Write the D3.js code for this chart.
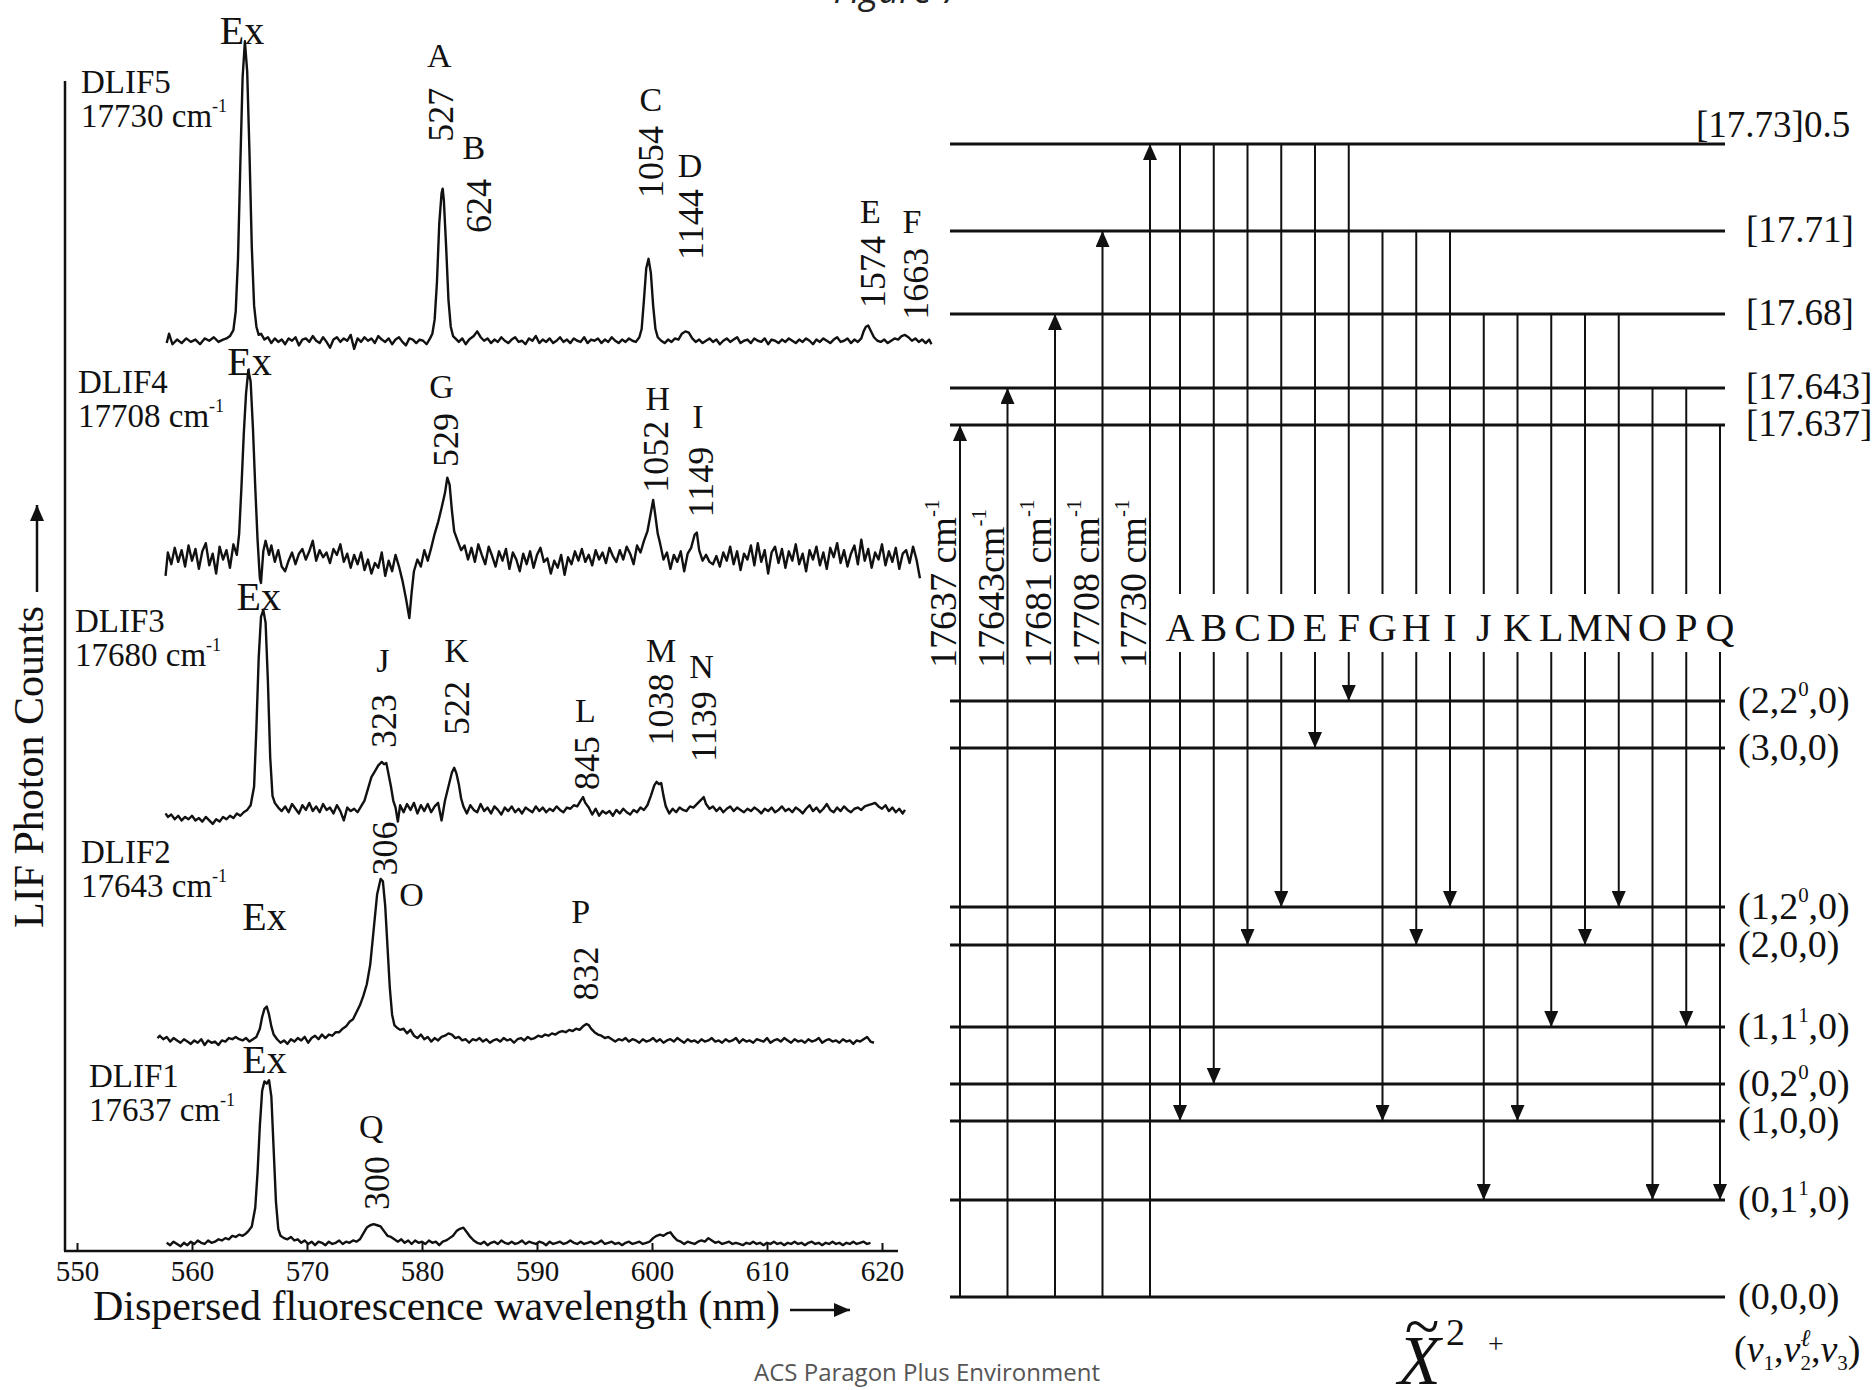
<!DOCTYPE html>
<html>
<head>
<meta charset="utf-8">
<script src="https://cdn.jsdelivr.net/npm/d3@7"></script>
<style>
  body { margin: 0; background: #fff; }
  svg text { font-family: "Liberation Serif", "Times New Roman", serif; fill: #111; }
</style>
</head>
<body>
<svg id="fig" width="1876" height="1390"></svg>
<script>
// ---------------- data: dispersed fluorescence spectra ----------------
const wlTicks = [550, 560, 570, 580, 590, 600, 610, 620];
const spectrumNames = ["DLIF5", "DLIF4", "DLIF3", "DLIF2", "DLIF1"];
const pumpEnergies = ["17730", "17708", "17680", "17643", "17637"];
const spectrumOffsets = [778, 593, 377, 180, 7];

// [wavelength nm, counts above the trace baseline]
const dlif5 = [[557.8,-2],[558.0,6],[558.3,-3],[558.7,1],[559.1,-2],[559.5,2],[559.9,-1],[560.3,1],[560.7,-3],[561.1,2],[561.5,0],[561.9,3],[562.3,-1],[562.7,1],[563.0,2],[563.3,4],[563.6,9],[563.8,25],[564.0,70],[564.2,150],[564.4,225],[564.6,256],[564.8,230],[565.0,160],[565.2,80],[565.4,30],[565.6,12],[565.8,5],[566.0,6],[566.3,1],[566.6,3],[566.9,-2],[567.2,2],[567.5,-1],[567.8,1],[568.1,-3],[568.4,2],[568.7,0],[569.0,3],[569.3,-4],[569.6,1],[569.9,2],[570.2,-1],[570.5,4],[570.8,0],[571.1,-2],[571.4,3],[571.7,-1],[572.0,-6],[572.3,1],[572.6,3],[572.9,-1],[573.2,2],[573.5,0],[573.8,5],[574.1,-7],[574.4,2],[574.7,-1],[575.0,3],[575.3,0],[575.6,2],[575.9,-2],[576.2,4],[576.5,1],[576.8,-1],[577.1,2],[577.4,-3],[577.7,1],[578.0,3],[578.3,-1],[578.6,-4],[578.9,2],[579.2,1],[579.5,-2],[579.8,1],[580.1,0],[580.4,-3],[580.7,2],[580.9,6],[581.1,18],[581.3,50],[581.5,100],[581.7,126],[581.8,130],[581.9,120],[582.1,80],[582.3,35],[582.5,12],[582.7,4],[582.9,2],[583.2,-1],[583.5,2],[583.8,-3],[584.1,1],[584.5,4],[584.8,8],[585.1,3],[585.4,0],[585.7,2],[586.0,-2],[586.3,1],[586.6,-1],[586.9,3],[587.2,0],[587.5,-2],[587.8,1],[588.1,3],[588.4,-1],[588.7,0],[589.0,-3],[589.3,2],[589.6,0],[589.9,4],[590.2,-2],[590.5,1],[590.8,-1],[591.1,2],[591.4,-2],[591.7,0],[592.0,3],[592.3,-1],[592.6,1],[592.9,-2],[593.2,2],[593.5,0],[593.8,-1],[594.1,3],[594.4,-2],[594.7,1],[595.0,0],[595.3,2],[595.6,-2],[595.9,1],[596.2,-1],[596.5,3],[596.8,0],[597.1,-2],[597.4,1],[597.7,-1],[598.0,2],[598.3,0],[598.6,-1],[598.9,3],[599.1,10],[599.3,35],[599.5,62],[599.7,70],[599.9,58],[600.1,30],[600.3,10],[600.5,3],[600.8,0],[601.1,-2],[601.4,1],[601.7,-1],[602.0,2],[602.3,1],[602.6,6],[602.9,8],[603.2,7],[603.5,2],[603.8,-1],[604.1,1],[604.4,-2],[604.7,0],[605.0,2],[605.3,-1],[605.6,1],[605.9,-3],[606.2,0],[606.5,2],[606.8,-1],[607.1,1],[607.4,3],[607.7,-2],[608.0,0],[608.3,1],[608.6,-2],[608.9,2],[609.2,0],[609.5,-1],[609.8,2],[610.1,-3],[610.4,1],[610.7,0],[611.0,-2],[611.3,1],[611.6,-1],[611.9,2],[612.2,0],[612.5,-2],[612.8,1],[613.1,-1],[613.4,2],[613.7,0],[614.0,-3],[614.3,1],[614.6,-1],[614.9,2],[615.2,0],[615.5,-2],[615.8,1],[616.1,3],[616.4,-1],[616.7,0],[617.0,2],[617.3,-2],[617.6,1],[617.9,-1],[618.2,2],[618.4,8],[618.6,12],[618.8,13],[619.0,9],[619.3,3],[619.6,0],[619.9,-1],[620.2,1],[620.5,-2],[620.8,0],[621.1,2],[621.4,1],[621.7,4],[622.0,5],[622.3,3],[622.6,0],[622.9,2],[623.2,-1],[623.5,1],[623.8,-2],[624.1,1],[624.3,-3]];

const dlif4 = [[557.7,-16],[557.9,4],[558.2,-6],[558.5,8],[558.8,-4],[559.1,6],[559.4,-8],[559.7,10],[560.0,-3],[560.3,7],[560.6,-10],[560.9,5],[561.2,12],[561.5,-7],[561.8,3],[562.1,-14],[562.4,9],[562.7,-2],[563.0,6],[563.3,-9],[563.6,11],[563.9,2],[564.1,20],[564.3,60],[564.5,105],[564.7,140],[564.9,160],[565.1,150],[565.3,110],[565.5,60],[565.7,15],[565.9,-18],[566.0,-22],[566.2,5],[566.4,14],[566.7,2],[566.9,10],[567.2,-4],[567.5,6],[567.8,-8],[568.1,-12],[568.4,-3],[568.7,4],[569.0,-6],[569.3,3],[569.6,7],[569.9,-2],[570.2,5],[570.5,14],[570.8,-3],[571.1,6],[571.4,0],[571.7,4],[572.0,-5],[572.3,7],[572.6,2],[572.9,11],[573.2,-4],[573.5,3],[573.8,-9],[574.1,2],[574.4,-6],[574.7,4],[575.0,-11],[575.3,-2],[575.6,-14],[575.9,-5],[576.2,-9],[576.5,4],[576.8,-16],[577.1,-3],[577.4,-12],[577.7,2],[578.0,-8],[578.3,-20],[578.6,-35],[578.9,-52],[579.1,-30],[579.3,-12],[579.6,-2],[579.9,-8],[580.2,6],[580.5,-3],[580.8,8],[581.1,20],[581.4,30],[581.7,42],[582.0,55],[582.2,68],[582.4,62],[582.6,40],[582.8,22],[583.1,14],[583.4,6],[583.7,10],[584.0,-2],[584.3,8],[584.6,-4],[584.9,11],[585.2,2],[585.5,-6],[585.8,9],[586.1,1],[586.4,-8],[586.7,5],[587.0,-3],[587.3,7],[587.6,-10],[587.9,4],[588.2,-2],[588.5,-12],[588.8,3],[589.1,-6],[589.4,5],[589.7,-9],[590.0,2],[590.3,8],[590.6,-4],[590.9,-1],[591.2,-14],[591.5,-3],[591.8,-9],[592.1,2],[592.4,-15],[592.7,0],[593.0,-6],[593.3,5],[593.6,-3],[593.9,7],[594.2,-4],[594.5,2],[594.8,-7],[595.1,6],[595.4,-2],[595.7,4],[596.0,-5],[596.3,8],[596.6,1],[596.9,-4],[597.2,6],[597.5,-2],[597.8,9],[598.1,3],[598.4,-6],[598.7,10],[599.0,4],[599.3,14],[599.6,22],[599.9,38],[600.1,49],[600.3,35],[600.5,20],[600.7,12],[601.0,-2],[601.3,4],[601.6,-10],[601.9,2],[602.2,-4],[602.5,5],[602.8,-12],[603.1,3],[603.4,8],[603.7,19],[603.9,21],[604.1,6],[604.4,-3],[604.7,2],[605.0,-4],[605.3,-6],[605.6,1],[605.9,-8],[606.2,4],[606.5,-3],[606.8,9],[607.1,-6],[607.4,5],[607.7,-11],[608.0,3],[608.3,-2],[608.6,10],[608.9,-7],[609.2,12],[609.5,-4],[609.8,6],[610.1,-14],[610.4,4],[610.7,9],[611.0,-5],[611.3,7],[611.6,-9],[611.9,5],[612.2,-3],[612.5,11],[612.8,-6],[613.1,3],[613.4,-12],[613.7,6],[614.0,-2],[614.3,9],[614.6,-7],[614.9,4],[615.2,-10],[615.5,8],[615.8,0],[616.1,12],[616.4,-5],[616.7,6],[617.0,-8],[617.3,3],[617.6,10],[617.9,-6],[618.2,15],[618.5,-3],[618.8,7],[619.1,-9],[619.4,4],[619.7,-2],[620.0,11],[620.3,-7],[620.6,5],[620.9,-4],[621.2,8],[621.5,-10],[621.8,3],[622.1,6],[622.4,-5],[622.7,9],[623.0,-2],[623.3,-18]];

const dlif3 = [[557.7,-3],[557.9,-6],[558.2,-4],[558.5,-8],[558.8,-5],[559.1,-9],[559.4,-6],[559.7,-8],[560.0,-5],[560.3,-9],[560.6,-7],[560.9,-10],[561.2,-6],[561.5,-9],[561.8,-12],[562.1,-8],[562.4,-10],[562.7,-6],[563.0,-8],[563.3,-5],[563.6,-7],[563.9,-3],[564.2,-5],[564.5,-2],[564.8,0],[565.1,4],[565.4,20],[565.6,70],[565.8,130],[566.0,165],[566.2,171],[566.4,160],[566.6,110],[566.8,45],[567.0,12],[567.2,6],[567.5,2],[567.8,-1],[568.1,3],[568.4,-2],[568.7,5],[569.0,1],[569.3,-3],[569.6,4],[569.9,0],[570.2,6],[570.5,-1],[570.8,3],[571.1,-2],[571.4,5],[571.7,0],[572.0,2],[572.3,-3],[572.6,4],[572.9,-1],[573.2,-9],[573.5,2],[573.8,-1],[574.1,1],[574.4,-2],[574.7,3],[575.0,8],[575.3,18],[575.6,28],[575.9,33],[576.2,38],[576.5,41],[576.7,39],[576.9,40],[577.1,30],[577.3,20],[577.5,8],[577.7,2],[577.9,-10],[578.1,4],[578.4,-2],[578.7,5],[579.0,0],[579.3,6],[579.6,-3],[579.9,4],[580.2,-1],[580.5,5],[580.8,-2],[581.1,3],[581.4,6],[581.7,-9],[582.0,8],[582.3,20],[582.6,32],[582.8,36],[583.0,31],[583.2,22],[583.4,10],[583.6,3],[583.9,-3],[584.2,4],[584.5,0],[584.8,-2],[585.1,5],[585.4,-1],[585.7,2],[586.0,-3],[586.3,3],[586.6,0],[586.9,-4],[587.2,2],[587.5,-1],[587.8,3],[588.1,-2],[588.4,1],[588.7,-3],[589.0,2],[589.3,0],[589.6,-2],[589.9,3],[590.2,-1],[590.5,2],[590.8,-2],[591.1,1],[591.4,-1],[591.7,3],[592.0,0],[592.3,-2],[592.6,2],[592.9,1],[593.2,4],[593.5,3],[593.8,8],[594.0,11],[594.2,6],[594.5,2],[594.8,-4],[595.1,1],[595.4,-5],[595.7,-1],[596.0,-3],[596.3,-1],[596.6,-5],[596.9,0],[597.2,-3],[597.5,1],[597.8,-2],[598.1,-4],[598.4,0],[598.7,-2],[599.0,2],[599.3,0],[599.6,4],[599.9,12],[600.2,21],[600.4,24],[600.6,22],[600.8,23],[601.0,12],[601.2,3],[601.5,-3],[601.8,1],[602.1,-2],[602.4,2],[602.7,0],[603.0,-1],[603.3,3],[603.6,2],[603.9,5],[604.2,8],[604.5,11],[604.7,5],[605.0,1],[605.3,3],[605.6,-1],[605.9,2],[606.2,-2],[606.5,1],[606.8,3],[607.1,-1],[607.4,2],[607.7,0],[608.0,-2],[608.3,1],[608.6,-1],[608.9,2],[609.2,0],[609.5,-3],[609.8,1],[610.1,-1],[610.4,2],[610.7,-2],[611.0,0],[611.3,3],[611.6,-1],[611.9,1],[612.2,-2],[612.5,2],[612.8,0],[613.1,-3],[613.4,1],[613.7,4],[614.0,-1],[614.3,2],[614.6,-2],[614.9,1],[615.2,5],[615.5,0],[615.8,-2],[616.1,2],[616.4,-1],[616.7,3],[617.0,0],[617.3,-2],[617.6,1],[617.9,2],[618.2,0],[618.5,3],[618.8,4],[619.1,5],[619.4,6],[619.7,3],[620.0,1],[620.3,4],[620.6,-1],[620.9,2],[621.2,-2],[621.5,1],[621.8,-3],[622.0,0]];

const dlif2 = [[557.0,2],[557.2,4],[557.5,1],[557.8,3],[558.1,-1],[558.4,2],[558.7,0],[559.0,-2],[559.3,1],[559.6,-1],[559.9,-3],[560.2,0],[560.5,-2],[560.8,1],[561.1,-4],[561.4,0],[561.7,-2],[562.0,-1],[562.3,-4],[562.6,0],[562.9,-1],[563.2,2],[563.5,1],[563.8,3],[564.1,1],[564.4,0],[564.7,2],[565.0,-1],[565.3,1],[565.6,3],[565.9,10],[566.1,20],[566.3,27],[566.5,29],[566.7,22],[566.9,12],[567.1,5],[567.4,1],[567.7,-2],[568.0,0],[568.3,-3],[568.6,1],[568.9,-1],[569.2,2],[569.5,0],[569.8,3],[570.1,-2],[570.4,2],[570.7,4],[571.0,1],[571.3,5],[571.6,2],[571.9,5],[572.2,4],[572.5,7],[572.8,7],[573.1,10],[573.4,12],[573.7,16],[574.0,18],[574.3,24],[574.6,30],[574.9,38],[575.2,48],[575.5,65],[575.8,95],[576.1,125],[576.4,138],[576.6,136],[576.8,115],[577.0,80],[577.2,45],[577.4,22],[577.6,13],[577.8,11],[578.1,9],[578.4,10],[578.7,6],[579.0,9],[579.3,4],[579.6,2],[579.9,5],[580.2,1],[580.5,3],[580.8,-1],[581.1,2],[581.4,0],[581.7,3],[582.0,4],[582.3,6],[582.6,5],[582.9,2],[583.2,3],[583.5,0],[583.8,1],[584.1,-2],[584.4,1],[584.7,0],[585.0,2],[585.3,-1],[585.6,1],[585.9,-2],[586.2,0],[586.5,1],[586.8,-1],[587.1,2],[587.4,0],[587.7,1],[588.0,-2],[588.3,1],[588.6,2],[588.9,0],[589.2,3],[589.5,1],[589.8,2],[590.1,4],[590.4,3],[590.7,5],[591.0,4],[591.3,6],[591.6,5],[591.9,7],[592.2,8],[592.5,7],[592.8,9],[593.1,8],[593.4,10],[593.7,9],[594.0,12],[594.3,14],[594.5,13],[594.7,10],[595.0,7],[595.3,5],[595.6,4],[595.9,2],[596.2,3],[596.5,1],[596.8,-1],[597.1,1],[597.4,0],[597.7,2],[598.0,-1],[598.3,1],[598.6,0],[598.9,-2],[599.2,1],[599.5,-1],[599.8,0],[600.1,2],[600.4,-1],[600.7,1],[601.0,-2],[601.3,0],[601.6,1],[601.9,-1],[602.2,2],[602.5,0],[602.8,-2],[603.1,1],[603.4,-1],[603.7,0],[604.0,-2],[604.3,1],[604.6,-1],[604.9,0],[605.2,2],[605.5,-1],[605.8,0],[606.1,-2],[606.4,1],[606.7,-1],[607.0,0],[607.3,2],[607.6,-2],[607.9,1],[608.2,-1],[608.5,0],[608.8,-2],[609.1,1],[609.4,0],[609.7,-1],[610.0,2],[610.3,-2],[610.6,0],[610.9,1],[611.2,-1],[611.5,2],[611.8,0],[612.1,-2],[612.4,1],[612.7,-1],[613.0,0],[613.3,-2],[613.6,1],[613.9,-1],[614.2,0],[614.5,2],[614.8,-2],[615.1,0],[615.4,1],[615.7,-1],[616.0,0],[616.3,-2],[616.6,1],[616.9,-1],[617.2,0],[617.5,-3],[617.8,0],[618.1,-1],[618.4,1],[618.7,3],[619.0,-1],[619.3,-2]];

const dlif1 = [[557.8,0],[558.1,-2],[558.4,1],[558.7,-1],[559.0,-3],[559.3,0],[559.6,-2],[559.9,1],[560.2,-1],[560.5,2],[560.8,0],[561.1,-1],[561.4,2],[561.7,0],[562.0,1],[562.3,3],[562.6,2],[562.9,4],[563.2,3],[563.5,6],[563.8,5],[564.1,7],[564.4,6],[564.7,8],[564.9,10],[565.2,14],[565.5,30],[565.7,60],[565.9,100],[566.1,130],[566.3,138],[566.5,136],[566.7,139],[566.9,125],[567.1,80],[567.3,35],[567.5,12],[567.7,6],[568.0,4],[568.3,3],[568.6,5],[568.9,2],[569.2,3],[569.5,0],[569.8,2],[570.1,-1],[570.4,1],[570.7,-2],[571.0,1],[571.3,0],[571.6,-2],[571.9,1],[572.2,-1],[572.5,0],[572.8,2],[573.1,-1],[573.4,1],[573.7,0],[574.0,2],[574.3,1],[574.6,3],[574.9,8],[575.2,13],[575.5,15],[575.8,16],[576.1,15],[576.4,14],[576.7,10],[577.0,6],[577.3,5],[577.6,3],[577.9,1],[578.2,3],[578.5,0],[578.8,2],[579.1,-1],[579.4,2],[579.7,0],[580.0,1],[580.3,-1],[580.6,2],[580.9,0],[581.2,1],[581.5,-2],[581.8,1],[582.1,2],[582.4,4],[582.7,6],[583.0,10],[583.3,12],[583.6,13],[583.9,9],[584.2,5],[584.5,2],[584.8,0],[585.1,-1],[585.4,1],[585.7,-2],[586.0,0],[586.3,1],[586.6,-1],[586.9,2],[587.2,0],[587.5,-1],[587.8,1],[588.1,-1],[588.4,0],[588.7,2],[589.0,-1],[589.3,1],[589.6,0],[589.9,-1],[590.2,1],[590.5,0],[590.8,-2],[591.1,1],[591.4,-1],[591.7,0],[592.0,1],[592.3,-1],[592.6,0],[592.9,2],[593.2,0],[593.5,-1],[593.8,1],[594.1,-1],[594.4,0],[594.7,1],[595.0,-1],[595.3,0],[595.6,2],[595.9,-1],[596.2,0],[596.5,1],[596.8,-1],[597.1,0],[597.4,-2],[597.7,0],[598.0,1],[598.3,-1],[598.6,0],[598.9,1],[599.2,-1],[599.5,0],[599.8,1],[600.1,4],[600.4,6],[600.7,7],[601.0,6],[601.3,8],[601.6,9],[601.9,5],[602.2,2],[602.5,1],[602.8,-1],[603.1,1],[603.4,0],[603.7,-1],[604.0,1],[604.3,2],[604.6,1],[604.9,4],[605.2,2],[605.5,0],[605.8,1],[606.1,-1],[606.4,0],[606.7,1],[607.0,-1],[607.3,0],[607.6,-1],[607.9,-2],[608.2,0],[608.5,-1],[608.8,1],[609.1,-1],[609.4,0],[609.7,-2],[610.0,0],[610.3,-1],[610.6,1],[610.9,-1],[611.2,0],[611.5,-2],[611.8,0],[612.1,-1],[612.4,1],[612.7,-1],[613.0,0],[613.3,-2],[613.6,0],[613.9,1],[614.2,-1],[614.5,0],[614.8,-2],[615.1,0],[615.4,-1],[615.7,1],[616.0,-1],[616.3,0],[616.6,-2],[616.9,0],[617.2,-1],[617.5,1],[617.8,-1],[618.1,0],[618.4,1],[618.7,-1],[619.0,0]];

// peak annotations: [text, wavelength nm, height in plot counts]
const exLabels = [[564.35,1032],[565.0,749],[565.8,548],[566.3,274],[566.3,152]];
const peakLetters = [["A",581.5,1012],["B",584.5,933],["C",599.9,974],["D",603.3,918],["E",619.0,879],["F",622.6,870],
  ["G",581.7,729],["H",600.5,719],["I",604.0,703],
  ["J",576.6,495],["K",583.0,503],["L",594.2,452],["M",600.8,503],["N",604.3,490],
  ["O",579.1,295],["P",593.8,280],["Q",575.6,97]];
const peakShifts = [["527",581.6,948],["624",584.9,870],["1054",599.9,900],["1144",603.3,847],["1574",619.2,806],["1663",622.9,796],
  ["529",582.0,670],["1052",600.3,648],["1149",604.2,627],
  ["323",576.6,430],["522",583.0,441],["845",594.3,394],["1038",600.7,432],["1139",604.5,418],
  ["306",576.7,321],["832",594.2,214],["300",576.0,35]];

// ---------------- data: energy level diagram ----------------
const upperLevels = ["[17.73]0.5", "[17.71]", "[17.68]", "[17.643]", "[17.637]"];
const upperPos = [100, 92.45, 85.26, 78.84, 75.63];
const lowerLevels = ["(2,2^0,0)", "(3,0,0)", "(1,2^0,0)", "(2,0,0)", "(1,1^1,0)", "(0,2^0,0)", "(1,0,0)", "(0,1^1,0)", "(0,0,0)"];
const lowerPos = [51.69, 47.61, 33.82, 30.53, 23.42, 18.47, 15.26, 8.41, 0];
const pumpLabels = ["17637 cm^{-1}", "17643cm^{-1}", "17681 cm^{-1}", "17708 cm^{-1}", "17730 cm^{-1}"];
const pumpTo = [4, 3, 2, 1, 0];
const bandLetters = ["A","B","C","D","E","F","G","H","I","J","K","L","M","N","O","P","Q"];
const bandFrom = [0,0,0,0,0,0,1,1,1,2,2,2,2,2,3,3,4];
const bandTo   = [6,5,3,2,1,0,6,3,2,7,6,4,3,2,7,4,7];

// ---------------- drawing ----------------
const svg = d3.select("#fig");
const ink = "#111";

const defs = svg.append("defs");
defs.append("marker").attr("id", "head")
  .attr("markerUnits", "userSpaceOnUse")
  .attr("viewBox", "0 0 16 14").attr("markerWidth", 16).attr("markerHeight", 14)
  .attr("refX", 16).attr("refY", 7).attr("orient", "auto")
  .append("path").attr("d", "M0,0L16,7L0,14Z").attr("fill", ink);

// text with ^x / ^{..} superscripts and _x subscripts
function rich(t, str, fs) {
  const parts = str.split(/(\^\{[^}]*\}|\^.|_\{[^}]*\}|_.)/).filter(p => p !== "");
  let shift = 0;
  parts.forEach(p => {
    let cur = 0, txt = p, small = false;
    if (p[0] === "^" || p[0] === "_") {
      txt = p[1] === "{" ? p.slice(2, -1) : p.slice(1);
      cur = p[0] === "^" ? -0.45 * fs : 0.22 * fs;
      small = true;
    }
    const ts = t.append("tspan").attr("dy", cur - shift).text(txt);
    if (small) ts.attr("font-size", fs * 0.55);
    shift = cur;
  });
  return t;
}

// ----- left panel -----
const x = d3.scaleLinear().domain([550, 620]).range([77, 882]);
const y = d3.scaleLinear().domain([0, 1000]).range([1251, 81]);

const spectra = [dlif5, dlif4, dlif3, dlif2, dlif1];
spectra.forEach((s, i) => {
  const line = d3.line().x(d => x(d[0])).y(d => y(d[1] + spectrumOffsets[i]));
  svg.append("path").datum(s)
    .attr("d", line)
    .attr("fill", "none").attr("stroke", ink)
    .attr("stroke-width", 2.4).attr("stroke-linejoin", "round");
});

// axes
svg.append("line").attr("x1", 65).attr("x2", 65).attr("y1", y(1000)).attr("y2", y(0))
  .attr("stroke", ink).attr("stroke-width", 2.5);
svg.append("line").attr("x1", 64).attr("x2", 898).attr("y1", y(0)).attr("y2", y(0))
  .attr("stroke", ink).attr("stroke-width", 2.5);

const xAxis = d3.axisBottom(x).tickValues(wlTicks).tickSize(-8).tickPadding(9);
const gx = svg.append("g").attr("transform", `translate(0,${y(0)})`).call(xAxis);
gx.select(".domain").remove();
gx.attr("font-family", "Liberation Serif, serif").attr("font-size", 29);
gx.selectAll(".tick line").attr("stroke", ink).attr("stroke-width", 2);
gx.selectAll(".tick text").attr("fill", ink);

svg.append("text").attr("x", 93).attr("y", 1320).attr("font-size", 42)
  .text("Dispersed fluorescence wavelength (nm)");
svg.append("line").attr("x1", 790).attr("x2", 850).attr("y1", 1310).attr("y2", 1310)
  .attr("stroke", ink).attr("stroke-width", 2.5).attr("marker-end", "url(#head)");

svg.append("text").attr("transform", "translate(43,928) rotate(-90)")
  .attr("font-size", 42).text("LIF Photon Counts");
svg.append("line").attr("x1", 37).attr("x2", 37).attr("y1", 592).attr("y2", 505)
  .attr("stroke", ink).attr("stroke-width", 2.5).attr("marker-end", "url(#head)");

// spectrum names
const nameAt = [[81, 93], [78, 393], [75, 632], [81, 863], [89, 1087]];
spectrumNames.forEach((n, i) => {
  svg.append("text").attr("x", nameAt[i][0]).attr("y", nameAt[i][1]).attr("font-size", 33).text(n);
  rich(svg.append("text").attr("x", nameAt[i][0]).attr("y", nameAt[i][1] + 34).attr("font-size", 33),
    pumpEnergies[i] + " cm^{-1}", 33);
});

exLabels.forEach(d => {
  svg.append("text").attr("x", x(d[0])).attr("y", y(d[1]))
    .attr("text-anchor", "middle").attr("font-size", 40).text("Ex");
});
peakLetters.forEach(d => {
  svg.append("text").attr("x", x(d[1])).attr("y", y(d[2]))
    .attr("text-anchor", "middle").attr("font-size", 34).text(d[0]);
});
peakShifts.forEach(d => {
  svg.append("text").attr("transform", `translate(${x(d[1])},${y(d[2])}) rotate(-90)`)
    .attr("dy", "0.35em").attr("font-size", 36).text(d[0]);
});

// ----- right panel: level diagram -----
const ly = d3.scaleLinear().domain([0, 100]).range([1297, 144]);
const px = d3.scalePoint().domain(pumpLabels).range([960, 1150]);
const bx = d3.scalePoint().domain(bandLetters).range([1180, 1720]);
const levelX0 = 950, levelX1 = 1725;
const gapTop = 594, gapBottom = 652, letterBase = 641;

upperPos.concat(lowerPos).forEach(p => {
  svg.append("line").attr("x1", levelX0).attr("x2", levelX1).attr("y1", ly(p)).attr("y2", ly(p))
    .attr("stroke", ink).attr("stroke-width", 3);
});

upperLevels.forEach((l, i) => {
  const t = svg.append("text").attr("font-size", 37).text(l);
  if (i === 0) t.attr("x", 1696).attr("y", ly(upperPos[i]) - 7);
  else t.attr("x", 1746).attr("y", ly(upperPos[i]) + 11);
});
lowerLevels.forEach((l, i) => {
  rich(svg.append("text").attr("x", 1738).attr("y", ly(lowerPos[i]) + 12).attr("font-size", 38), l, 38);
});

// excitation arrows
pumpLabels.forEach((l, i) => {
  svg.append("line").attr("x1", px(l)).attr("x2", px(l))
    .attr("y1", ly(0)).attr("y2", ly(upperPos[pumpTo[i]]))
    .attr("stroke", ink).attr("stroke-width", 2).attr("marker-end", "url(#head)");
  rich(svg.append("text").attr("transform", `translate(${px(l) - 4},668) rotate(-90)`)
    .attr("font-size", 38), l, 38);
});

// emission arrows
bandLetters.forEach((b, i) => {
  const xx = bx(b);
  svg.append("line").attr("x1", xx).attr("x2", xx)
    .attr("y1", ly(upperPos[bandFrom[i]])).attr("y2", gapTop)
    .attr("stroke", ink).attr("stroke-width", 2);
  svg.append("line").attr("x1", xx).attr("x2", xx)
    .attr("y1", gapBottom).attr("y2", ly(lowerPos[bandTo[i]]))
    .attr("stroke", ink).attr("stroke-width", 2).attr("marker-end", "url(#head)");
  svg.append("text").attr("x", xx).attr("y", letterBase)
    .attr("text-anchor", "middle").attr("font-size", 40).text(b);
});

// quantum number legend
const q = svg.append("text").attr("x", 1734).attr("y", 1362).attr("font-size", 38);
q.append("tspan").text("(");
q.append("tspan").attr("font-style", "italic").text("v");
q.append("tspan").attr("font-size", 21).attr("dy", 8).text("1");
q.append("tspan").attr("dy", -8).text(",");
q.append("tspan").attr("font-style", "italic").text("v");
q.append("tspan").attr("font-size", 24).attr("font-style", "italic").attr("dy", -16).text("ℓ");
q.append("tspan").attr("font-size", 21).attr("dx", -10).attr("dy", 24).text("2");
q.append("tspan").attr("dy", -8).text(",");
q.append("tspan").attr("font-style", "italic").text("v");
q.append("tspan").attr("font-size", 21).attr("dy", 8).text("3");
q.append("tspan").attr("dy", -8).text(")");

// state label
svg.append("text").attr("x", 1398).attr("y", 1384).attr("font-size", 70).attr("font-style", "italic").text("X");
svg.append("text").attr("x", 1422).attr("y", 1348).attr("text-anchor", "middle").attr("font-size", 64).text("~");
svg.append("text").attr("x", 1446).attr("y", 1345).attr("font-size", 38).text("2");
svg.append("text").attr("x", 1488).attr("y", 1353).attr("font-size", 28).text("+");

// page furniture
svg.append("text").attr("x", 897).attr("y", 3).attr("text-anchor", "middle")
  .style("font-family", "'Open Sans', sans-serif").attr("font-style", "italic")
  .attr("font-size", 36).style("fill", "#222").text("Figure 7");
svg.append("text").attr("x", 927).attr("y", 1381).attr("text-anchor", "middle")
  .style("font-family", "'Open Sans', sans-serif")
  .attr("font-size", 24).style("fill", "#555").text("ACS Paragon Plus Environment");
</script>
</body>
</html>
